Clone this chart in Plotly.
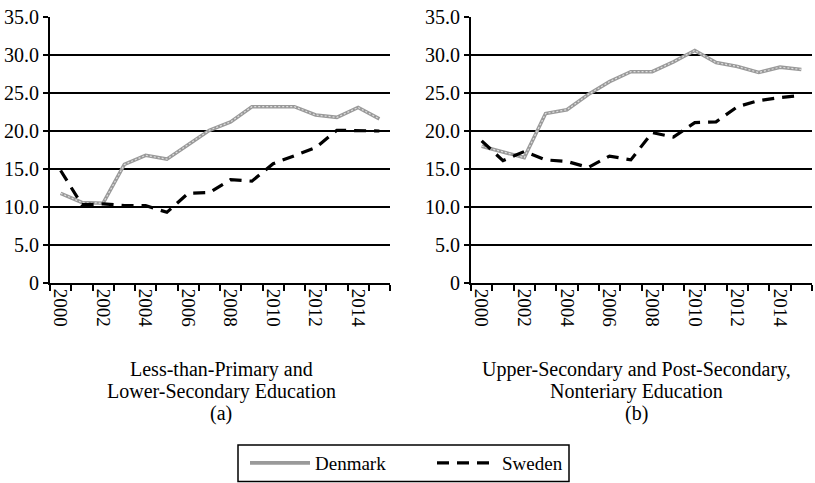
import plotly.graph_objects as go

years = list(range(2000, 2016))

denmark_a = [11.8, 10.6, 10.5, 15.6, 16.8, 16.3, 18.2, 20.1, 21.2, 23.2, 23.2, 23.2, 22.1, 21.8, 23.1, 21.6]
sweden_a = [14.8, 10.3, 10.4, 10.2, 10.2, 9.3, 11.8, 11.9, 13.6, 13.4, 15.7, 16.7, 17.8, 20.1, 20.1, 20.0]

denmark_b = [18.0, 17.3, 16.5, 22.3, 22.8, 24.8, 26.5, 27.8, 27.8, 29.1, 30.6, 29.0, 28.5, 27.7, 28.4, 28.1]
sweden_b = [18.7, 16.1, 17.3, 16.2, 16.0, 15.2, 16.7, 16.2, 19.8, 19.2, 21.1, 21.2, 23.2, 24.0, 24.4, 24.7]

ytick_vals = [0, 5, 10, 15, 20, 25, 30, 35]
ytick_text = ["0", "5.0", "10.0", "15.0", "20.0", "25.0", "30.0", "35.0"]
xtick_vals = [2000, 2002, 2004, 2006, 2008, 2010, 2012, 2014]
xtick_text = [str(v) for v in xtick_vals]

title_a = ["Less-than-Primary and", "Lower-Secondary Education", "(a)"]
title_b = ["Upper-Secondary and Post-Secondary,", "Nonteriary Education", "(b)"]

FONT = "Liberation Serif"
W, H = 815, 483

fig = go.Figure()

GRAY = "#9a9a9a"
LIGHT = "#dedede"

for i, (dk, se) in enumerate([(denmark_a, sweden_a), (denmark_b, sweden_b)]):
    xa = "x" if i == 0 else "x2"
    ya = "y" if i == 0 else "y2"
    fig.add_trace(go.Scatter(x=years, y=dk, mode="lines", name="Denmark",
                             line=dict(color=GRAY, width=3.6), xaxis=xa, yaxis=ya,
                             showlegend=(i == 0), legendgroup="dk"))
    fig.add_trace(go.Scatter(x=years, y=dk, mode="lines", name="Denmark",
                             line=dict(color=LIGHT, width=1.2, dash="2px,2px"), xaxis=xa, yaxis=ya,
                             showlegend=False, legendgroup="dk", hoverinfo="skip"))
    fig.add_trace(go.Scatter(x=years, y=se, mode="lines", name="Sweden",
                             line=dict(color="black", width=3.2, dash="12px,8px"), xaxis=xa, yaxis=ya,
                             showlegend=(i == 0), legendgroup="se"))

def px_x(p):
    return p / W

def px_y(p):
    return 1 - p / H

xaxis_common = dict(
    range=[1999.5, 2015.5], tickmode="array", tickvals=xtick_vals, ticktext=xtick_text,
    tickangle=90, ticks="", showgrid=False, zeroline=False,
    showline=True, linecolor="black", linewidth=2,
    tickfont=dict(family=FONT, size=19, color="black"),
    minor=dict(ticks="outside", ticklen=6, tickwidth=2, tickcolor="black",
               tickmode="linear", tick0=1999.5, dtick=1, showgrid=False),
    automargin=False, fixedrange=True,
)
yaxis_common = dict(
    range=[0, 35], tickmode="array", tickvals=ytick_vals, ticktext=ytick_text,
    ticks="outside", ticklen=5, tickwidth=2, tickcolor="black",
    showgrid=True, gridcolor="black", gridwidth=2, zeroline=False,
    showline=True, linecolor="black", linewidth=2,
    tickfont=dict(family=FONT, size=20, color="black"),
    automargin=False, fixedrange=True,
)

fig.update_layout(
    width=W, height=H,
    margin=dict(l=0, r=0, t=0, b=0),
    paper_bgcolor="white", plot_bgcolor="white",
    font=dict(family=FONT, color="black", size=19),
    xaxis=dict(domain=[px_x(50), px_x(390)], anchor="y", **xaxis_common),
    yaxis=dict(domain=[px_y(283), px_y(17)], anchor="x", **yaxis_common),
    xaxis2=dict(domain=[px_x(471), px_x(812)], anchor="y2", **xaxis_common),
    yaxis2=dict(domain=[px_y(283), px_y(17)], anchor="x2", **yaxis_common),
    showlegend=True,
    legend=dict(orientation="h", x=px_x(245), xanchor="left", y=px_y(463), yanchor="middle",
                borderwidth=0, bgcolor="rgba(0,0,0,0)",
                font=dict(family=FONT, size=19, color="black"),
                entrywidth=112, itemwidth=60),
    shapes=[dict(type="rect", xref="paper", yref="paper",
                 x0=px_x(238), x1=px_x(569), y0=px_y(481.5), y1=px_y(445),
                 line=dict(color="black", width=1.5), fillcolor="rgba(0,0,0,0)", layer="below")],
)

line_y = [369, 391, 413]
for cx, lines in [(221, title_a), (636, title_b)]:
    for ly, txt in zip(line_y, lines):
        fig.add_annotation(text=txt, x=px_x(cx), y=px_y(ly), xref="paper", yref="paper",
                           xanchor="center", yanchor="middle", showarrow=False,
                           font=dict(family=FONT, size=20, color="black"))

fig.write_html("out.html",
               config={"displayModeBar": False},
               post_script="document.body.style.margin='0';document.body.style.overflow='hidden';")
